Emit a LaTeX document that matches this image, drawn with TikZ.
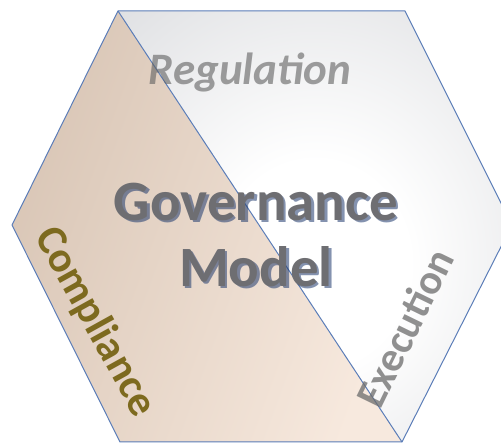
\documentclass[tikz,border=0pt]{standalone}
\usepackage{fontspec}
\setmainfont{Carlito}
\definecolor{edgeblue}{HTML}{5B7DB8}
\definecolor{sandlight}{HTML}{F7E9DE}
\definecolor{sanddark}{HTML}{D9C6B6}
\definecolor{steelgray}{HTML}{C2C4C9}
\definecolor{olivetext}{HTML}{7D6A1F}
\definecolor{modelgray}{HTML}{6E6E72}
\definecolor{shadowblue}{HTML}{1F3A6E}
\pgfdeclareradialshading{govglow}{\pgfpoint{0bp}{-5bp}}{color(0bp)=(white); color(12bp)=(white); color(62bp)=(steelgray); color(100bp)=(steelgray)}
\begin{document}
\begin{tikzpicture}[x=1pt, y=1pt,
  hexline/.style={draw=edgeblue, line width=1pt, line join=round},
  sidelabel/.style={font=\bfseries\fontsize{43}{45}\selectfont, inner sep=0pt},
  modellabel/.style={font=\bfseries\fontsize{57}{66}\selectfont, align=center, inner sep=0pt}]
\useasboundingbox (0,0) rectangle (501,443);
\clip (0,0) rectangle (501,443);
\coordinate (TL) at (118,432);
\coordinate (TR) at (405,432);
\coordinate (R) at (512,218);
\coordinate (BR) at (402,1);
\coordinate (BL) at (120,1);
\coordinate (L) at (12,218);
% the two halves of the hexagon
\shade[left color=sanddark, right color=sandlight, shading angle=70] (TL) -- (L) -- (BL) -- (BR) -- cycle;
\shade[shading=govglow] (TL) -- (TR) -- (R) -- (BR) -- cycle;
\draw[hexline] (TL) -- (TR) -- (R) -- (BR) -- (BL) -- (L) -- cycle;
\draw[hexline] (TL) -- (BR);
% labels
\node[sidelabel, font=\bfseries\itshape\fontsize{45}{46}\selectfont, text=gray!75!black, text opacity=0.6] (reg) at (250,370) {Regulation};
\node[sidelabel, text=olivetext, rotate=-61] (comp) at (95,121) {Compliance};
\node[sidelabel, font=\bfseries\fontsize{42}{44}\selectfont, text=gray!85!black, text opacity=0.75, rotate=64] (exec) at (405,115) {Execution};
\node[modellabel, text=shadowblue, opacity=0.55] (gmshadow) at (258.5,205.5) {Governance\\Model};
\node[modellabel, text=modelgray] (gm) at (256,208) {Governance\\Model};
\end{tikzpicture}
\end{document}
